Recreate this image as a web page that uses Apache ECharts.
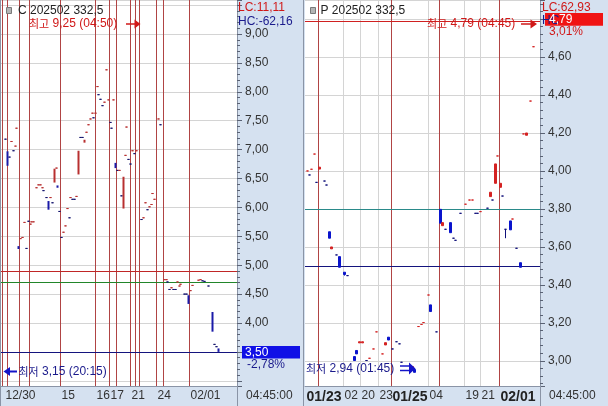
<!DOCTYPE html>
<html><head><meta charset="utf-8">
<script src="https://cdn.jsdelivr.net/npm/echarts@6.0.0/dist/echarts.min.js"></script>
<style>html,body{margin:0;padding:0;background:#fff}#chart{width:608px;height:406px}</style>
</head><body><div id="chart"></div>
<script>
// ---------------- DATA ----------------
// Left panel: C 202502 332.5 (slot = time position)
const leftSlot  = [4,6,8,10,12,14,15,17,19,21,23,25,27,29,30,32,35,37,39,41,42,45,47,49,51,53,55,56,58,60,62,64,66,68,69,71,73,75,77,79,81,83,85,87,89,91,92,94,96,97,99,101,103,105,107,109,110,112,114,116,118,120,122,124,125,127,129,131,133,135,140,142,144,146,148,150,151,153,157,159,163,165,166,168,170,172,174,176,178,179,183,185,187,189,191,197,199,201,203,207,211,213,215,217];
const leftOpen  = [7.18,6.97,6.87,7.14,6.98,7.06,7.37,5.33,5.46,5.48,5.74,5.29,5.76,5.71,5.75,5.75,6.34,6.39,6.39,6.34,6.29,6.17,6.11,6.17,6.08,6.43,6.68,6.38,5.93,5.48,5.57,5.68,5.98,5.82,6.17,6.14,6.14,6.19,6.57,7.21,7.21,7.12,7.30,7.43,7.53,7.63,7.55,7.63,8.09,7.95,7.87,7.76,7.82,8.38,7.86,7.47,7.37,7.86,6.77,6.64,6.64,6.20,5.98,6.90,7.39,6.83,6.75,6.98,6.93,6.98,5.79,5.82,6.08,5.96,6.01,6.05,6.24,6.14,7.53,7.43,4.75,4.75,4.71,4.58,4.61,4.58,4.58,4.71,4.64,4.67,4.50,4.50,4.48,4.56,4.65,4.74,4.75,4.73,4.72,4.64,4.19,3.63,3.59,3.56];
const leftClose = [7.18,6.72,6.87,7.14,6.98,7.06,7.37,5.28,5.46,5.48,5.74,5.29,5.76,5.71,5.75,5.75,6.34,6.39,6.39,6.34,6.29,6.17,5.96,6.17,6.08,6.67,6.68,6.34,5.93,5.48,5.57,5.68,5.98,5.82,6.17,6.14,6.14,6.19,6.98,7.21,7.21,7.17,7.30,7.43,7.53,7.63,7.55,7.63,8.09,7.95,7.87,7.76,7.82,8.38,7.86,7.47,7.37,7.86,6.68,6.64,6.64,6.20,6.53,6.90,7.39,6.83,6.75,6.98,6.93,6.98,5.79,5.82,6.08,5.96,6.01,6.05,6.24,6.14,7.53,7.43,4.75,4.75,4.71,4.58,4.61,4.58,4.58,4.71,4.64,4.67,4.50,4.50,4.33,4.56,4.65,4.74,4.75,4.73,4.72,4.64,3.85,3.63,3.59,3.50];
const leftUp    = [0,0,0,1,0,1,1,0,1,1,1,0,0,1,1,1,1,1,1,1,0,0,0,1,0,1,1,0,0,0,1,1,1,0,1,0,0,1,1,0,0,1,1,1,1,1,0,1,1,0,0,0,1,1,1,0,0,1,0,0,1,0,1,1,1,0,0,1,0,1,0,1,1,0,1,1,1,1,1,0,1,1,0,0,1,0,0,1,1,1,0,0,0,1,1,1,1,0,0,0,0,0,0,0];
const leftDaySlots   = [1,6,18,28,59,94,108,115,129,134,138,155,162,188];
const leftLabelSlots = [3,59,94,108,129,155,188];
const leftLabelText  = ['12/30','15','16','17','21','24','02/01'];
const leftLevels     = [4.90, 4.71, 3.50];

// Right panel: P 202502 332.5
const rightSlot  = [2,4,6,9,11,14,19,21,24,26,31,34,39,42,49,51,54,57,61,64,68,71,77,80,83,87,91,94,96,107,109,113,116,118,123,125,131,135,137,140,145,148,150,155,160,164,167,170,172,175,182,185,187,190,192,195,197,200,205,207,211,215,218,221,225,228];
const rightOpen  = [4.00,3.979,4.009,4.089,3.94,4.01,3.947,3.926,3.68,3.59,3.558,3.549,3.467,3.449,3.023,3.055,3.095,3.095,3.002,3.014,3.063,3.153,3.037,3.084,3.125,3.063,3.101,3.09,2.993,2.953,2.955,3.181,3.192,3.202,3.347,3.295,3.153,3.798,3.712,3.693,3.728,3.646,3.635,3.777,3.825,3.847,3.847,3.777,3.777,3.786,3.804,3.865,3.847,3.935,4.079,3.914,3.868,3.693,3.737,3.747,3.593,3.517,4.195,4.188,4.368,4.654];
const rightClose = [4.00,3.979,4.009,4.089,3.94,4.02,3.947,3.926,3.646,3.60,3.558,3.493,3.455,3.449,3.002,3.037,3.101,3.101,3.002,3.014,3.063,3.153,3.037,3.096,3.11,3.063,3.101,3.09,2.993,2.97,2.94,3.181,3.192,3.202,3.347,3.26,3.153,3.725,3.728,3.693,3.675,3.646,3.635,3.777,3.825,3.847,3.847,3.777,3.777,3.786,3.804,3.888,3.847,4.037,4.079,3.935,3.868,3.693,3.69,3.747,3.593,3.493,4.195,4.20,4.368,4.654];
const rightUp    = [1,0,1,1,0,1,0,0,0,1,0,0,0,0,0,0,1,1,0,1,1,1,1,1,0,0,0,0,0,1,0,1,1,1,1,0,0,0,1,0,0,0,0,0,1,1,1,0,0,1,0,1,0,1,1,1,0,0,0,1,0,0,1,1,1,1];
const rightWickSlots = [39, 200];
const rightWickLow   = [3.449, 3.646];
const rightDaySlots  = [13,86,134,194];
const rightGridSlots = [38,55,73,123,159,175];
const rightLabelSlots = [0,38,55,73,86,123,159,175,194];
const rightLabelText  = ['01/23','02','20','23','01/25','04','19','21','02/01'];
const rightLabelBold  = [1,0,0,0,1,0,0,0,1];
const rightLevels     = [4.79, 3.80, 3.50];

// ---------------- FONTS ----------------
const cv = document.createElement('canvas').getContext('2d');
function mw(f){ cv.font = f; return cv.measureText('0123456789').width; }
const NARROW = Math.abs(mw('14px "Liberation Sans Narrow", "DejaVu Sans Mono"') - mw('14px "DejaVu Sans Mono"')) > 0.5;
const NUMFAM = NARROW ? '"Liberation Sans Narrow"' : '"Liberation Sans"';
const NUMSIZE = NARROW ? 14 : 12;
const FONT = NUMSIZE + 'px ' + NUMFAM + ', "Noto Sans CJK KR", sans-serif';
const KFONT = '11px "Noto Sans CJK KR", sans-serif';

// ---------------- COLORS ----------------
const RED = '#d42222', BLUE = '#0a14cc', NAVY = '#10107a';
const LRED = '#b83030', LBLUE = '#16166e', LBAR = '#1a1aa8';
const VLINE = '#b04444', GRIDC = '#d4d4d4', AXC = '#8a94a6', LABC = '#333';

const NL = 236, NR = 235;
const leftCats = Array.from({length: NL}, (_, i) => String(i));
const rightCats = Array.from({length: NR}, (_, i) => String(i));

function sty(c, bw){ return {color:c, color0:c, borderColor:c, borderColor0:c, borderColorDoji:c, borderWidth:bw}; }

const leftData = leftSlot.map((s, i) => {
  const o = leftOpen[i], c = leftClose[i];
  const doji = o === c;
  const col = leftUp[i] ? LRED : (doji ? LBLUE : LBAR);
  return {value:[s, o, c, Math.min(o,c), Math.max(o,c)], itemStyle: sty(col, doji ? 1 : 0)};
});
const rightData = rightSlot.map((s, i) => {
  const o = rightOpen[i], c = rightClose[i];
  let lo = Math.min(o,c), hi = Math.max(o,c);
  const w = rightWickSlots.indexOf(s);
  if (w >= 0) lo = rightWickLow[w];
  const col = rightUp[i] ? RED : (o === c ? NAVY : BLUE);
  return {value:[s, o, c, lo, hi], itemStyle: sty(col, 1)};
});

function fmtNum(v){ return v.toFixed(2).replace('.', ','); }

function yAxisCfg(grid, min, max, split, lo, hi){
  return {
    type:'value', gridIndex:grid, position:'right', min, max, splitNumber:split, scale:true,
    axisLine:{show:true, lineStyle:{color:AXC}},
    axisTick:{show:true, length:5, lineStyle:{color:'#5a6274'}},
    minorTick:{show:true, splitNumber:5, length:3, lineStyle:{color:'#5a6274'}},
    splitLine:{show:true, lineStyle:{color:GRIDC, width:1}},
    minorSplitLine:{show:false},
    axisLabel:{margin:8, color:LABC, fontFamily:NUMFAM, fontSize:NUMSIZE,
      showMinLabel:false, showMaxLabel:false,
      formatter: v => (v >= lo && v <= hi) ? fmtNum(v) : ''}
  };
}

function xAxisCfg(grid, cats, slots, texts, bold){
  return {
    type:'category', gridIndex:grid, data:cats, boundaryGap:true,
    axisLine:{show:true, lineStyle:{color:AXC}}, axisTick:{show:false}, splitLine:{show:false},
    axisLabel:{
      interval: (idx) => slots.indexOf(idx) >= 0,
      formatter: (val) => { const k = slots.indexOf(Number(val)); if (k < 0) return ''; return (bold && bold[k]) ? '{b|' + texts[k] + '}' : texts[k]; },
      align:'left', margin:4, color:LABC, fontFamily:NUMFAM, fontSize:NUMSIZE, padding:[0,0,0,1],
      rich:{ b:{fontFamily:'"Liberation Sans", sans-serif', fontWeight:'bold', fontSize:14, color:'#222'} }
    }
  };
}

const leftMarks = leftDaySlots.map(s => ({xAxis:String(s), lineStyle:{color:VLINE, width:1, type:'solid'}}))
  .concat([
    {yAxis:leftLevels[0], lineStyle:{color:'#c02626', width:1, type:'solid'}},
    {yAxis:leftLevels[1], lineStyle:{color:'#22862a', width:1, type:'solid'}},
    {yAxis:leftLevels[2], lineStyle:{color:'#14147e', width:1, type:'solid'}}
  ]);
const rightMarks = rightGridSlots.map(s => ({xAxis:String(s), lineStyle:{color:GRIDC, width:1, type:'solid'}}))
  .concat(rightDaySlots.map(s => ({xAxis:String(s), lineStyle:{color:VLINE, width:1, type:'solid'}})))
  .concat([
    {yAxis:rightLevels[0], lineStyle:{color:'#d02020', width:1, type:'solid'}},
    {yAxis:rightLevels[1], lineStyle:{color:'#2a8a8a', width:1, type:'solid'}},
    {yAxis:rightLevels[2], lineStyle:{color:'#14147e', width:1, type:'solid'}}
  ]);

function markLine(data){ return {silent:true, symbol:['none','none'], label:{show:false}, animation:false, emphasis:{disabled:true}, z:1, data}; }

function T(x, y, text, fill, extra){
  return {type:'text', x, y, z:100, silent:true, style:Object.assign({text, fill, font:FONT, verticalAlign:'middle', align:'left',
    rich:{k:{font:KFONT, fill}}}, extra||{})};
}
function L(x1,y1,x2,y2,stroke,lw){ return {type:'line', z:100, silent:true, shape:{x1,y1,x2,y2}, style:{stroke, lineWidth:lw||1}}; }
function P(pts, fill){ return {type:'polygon', z:100, silent:true, shape:{points:pts}, style:{fill}}; }
function R(x,y,w,h,fill,stroke){ return {type:'rect', z:99, silent:true, shape:{x,y,width:w,height:h}, style:{fill, stroke:stroke||null, lineWidth:1}}; }

const TRED = '#d01818', TNAVY = '#1a1a8c', ABLUE = '#1414c8';

const graphics = [
  L(0.5,0,0.5,406,AXC), L(303.5,0,303.5,406,AXC),
  L(237.5,386,237.5,406,AXC), L(540.5,386,540.5,406,AXC),
  // left panel
  R(6.5,7.5,5,6,'#b4b4b4','#7a7a7a'),
  T(18, 10.5, 'C 202502 332,5', '#222'),
  T(29, 24, '{k|최고} 9,25 (04:50)', TRED),
  L(126,24,136,24,TRED,1.5), P([[134.5,19.5],[140.5,24],[134.5,28.5]], TRED),
  T(238, 8, 'LC:11,11', TRED),
  T(238, 21.5, 'HC:-62,16', TNAVY),
  P([[3.5,371.5],[10,367],[10,376]], ABLUE), L(9,371.5,17,371.5,ABLUE,2),
  T(18.5, 372, '{k|최저} 3,15 (20:15)', TNAVY),
  R(242,346,58,12.5,'#1010e6'),
  T(245, 352.5, '3,50', '#ffffff'),
  T(247, 365, '-2,78%', TNAVY),
  T(246, 396, '04:45:00', LABC),
  // right panel
  R(310.5,7.5,5,6,'#b4b4b4','#7a7a7a'),
  T(320.5, 10.5, 'P 202502 332,5', '#222'),
  T(427, 24, '{k|최고} 4,79 (04:45)', TRED),
  L(521,24,531,24,TRED,1.5), P([[530.5,19.5],[537,24],[530.5,28.5]], TRED),
  T(542, 8, 'LC:62,93', TRED),
  T(542, 20.5, 'HC', TNAVY),
  R(545,13,58,12.7,'#f01414'),
  T(549, 19.5, '4,79', '#ffffff'),
  T(549, 32, '3,01%', TRED),
  T(306, 368.5, '{k|최저} 2,94 (01:45)', TNAVY),
  L(400,366,410,366,ABLUE,1.5), L(400,370.5,410,370.5,ABLUE,1.5),
  P([[409,362.5],[415.5,368.5],[409,374.5]], ABLUE),
  T(549, 396, '04:45:00', LABC)
];

const chart = echarts.init(document.getElementById('chart'), null, {renderer:'canvas'});
chart.setOption({
  animation:false,
  backgroundColor:'#d5e1f0',
  grid:[
    {left:1, top:0, width:236, height:386, show:true, backgroundColor:'#ffffff', borderWidth:0, containLabel:false},
    {left:305, top:0, width:235, height:386, show:true, backgroundColor:'#ffffff', borderWidth:0, containLabel:false}
  ],
  xAxis:[
    xAxisCfg(0, leftCats, leftLabelSlots, leftLabelText, null),
    xAxisCfg(1, rightCats, rightLabelSlots, rightLabelText, rightLabelBold)
  ],
  yAxis:[
    yAxisCfg(0, 2.91, 9.588, 13, 3.9, 9.1),
    yAxisCfg(1, 2.868, 4.9, 10, 2.95, 4.65)
  ],
  series:[
    {type:'candlestick', xAxisIndex:0, yAxisIndex:0, barWidth:2, z:3, encode:{x:0, y:[1,2,3,4]},
     data:leftData, emphasis:{disabled:true}, markLine:markLine(leftMarks)},
    {type:'candlestick', xAxisIndex:1, yAxisIndex:1, barWidth:3, z:3, encode:{x:0, y:[1,2,3,4]},
     data:rightData, emphasis:{disabled:true}, markLine:markLine(rightMarks)}
  ],
  graphic:{elements:graphics}
});
</script>
</body></html>
